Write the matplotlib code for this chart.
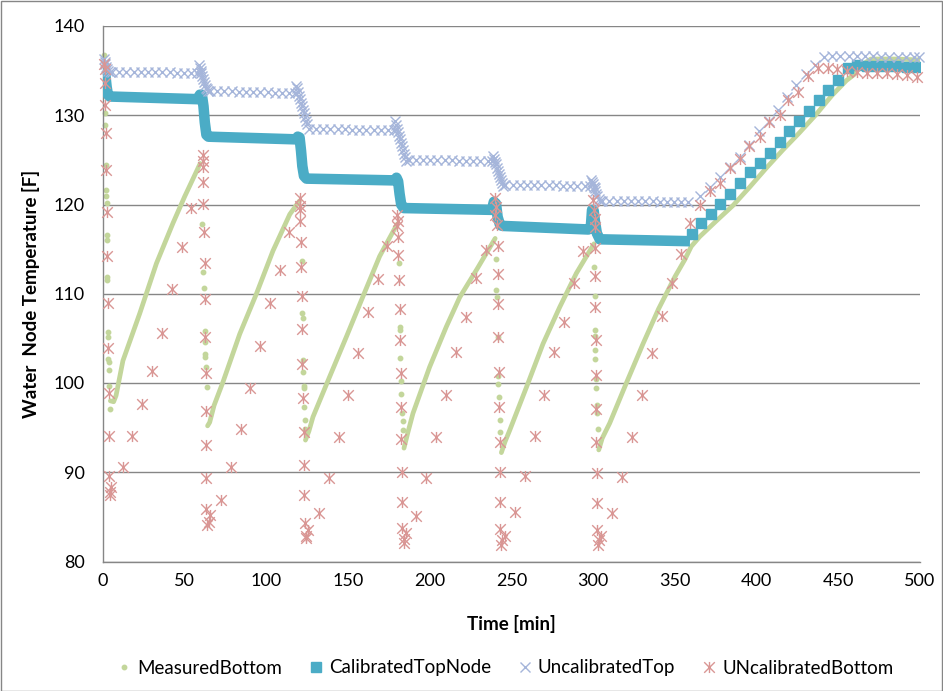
import matplotlib
matplotlib.use("Agg")
import matplotlib.pyplot as plt
from matplotlib.path import Path
from matplotlib.lines import Line2D
from matplotlib.patches import Rectangle

plt.rcParams['font.family'] = ['Lato', 'DejaVu Sans']

# ---------------- MeasuredBottom ----------------
# sparse readings taken while the tank is being drawn down
meas_draw_time = [0.4, 1.0, 1.2, 1.6, 1.8, 2.0, 2.2, 2.3, 2.5, 2.6, 2.7, 3.0, 3.1, 3.3, 3.4, 3.5, 3.7, 4.5,
                  60.8, 61.2, 61.8, 62.2, 62.3, 62.5, 62.7, 63.0, 63.4,
                  121.5, 122.0, 122.1, 122.4, 122.6, 122.8, 122.9, 123.2, 123.6, 123.8,
                  181.0, 181.5, 181.6, 182.0, 182.4, 182.6, 183.0, 183.5, 183.6,
                  240.3, 240.8, 240.9, 241.8, 241.8, 241.9, 242.4, 242.8, 243.2,
                  300.5, 300.9, 300.9, 301.3, 301.3, 301.3, 301.9, 301.9, 302.5, 302.5, 302.9]
meas_draw_temp = [136.7, 130.2, 128.9, 124.4, 121.6, 120.9, 120.2, 116.6, 116.0, 111.9, 111.5, 105.7, 105.2, 102.7, 102.4, 101.5, 99.7, 97.1,
                  117.8, 112.4, 110.6, 105.8, 104.6, 103.3, 102.9, 101.8, 99.5,
                  113.7, 107.8, 107.3, 102.6, 101.2, 99.7, 99.4, 97.3, 95.8, 94.9,
                  113.5, 106.3, 105.9, 102.8, 100.2, 98.8, 96.6, 95.7, 94.7,
                  113.9, 110.4, 109.6, 105.1, 100.8, 99.9, 98.4, 95.8, 94.5,
                  113.0, 109.8, 105.9, 105.3, 103.7, 102.7, 100.5, 99.4, 97.5, 96.6, 94.9]
# dense recovery traces, one list per recovery period
meas_rise_time = [
    [4.5, 6.5, 8.0, 9.5, 12.2, 22.5, 32.7, 42.8, 50.0, 59.5],
    [64.0, 65.3, 68.0, 73.4, 83.7, 93.9, 104.0, 114.3, 120.2],
    [123.9, 126.0, 128.5, 138.7, 149.0, 159.1, 169.3, 180.0],
    [184.2, 186.5, 189.7, 199.9, 210.1, 218.3, 229.0, 240.0],
    [243.8, 246.0, 248.9, 259.1, 269.3, 279.5, 289.7, 300.5],
    [303.4, 305.5, 310.1, 320.3, 330.5, 340.0, 350.0, 356.0, 360.0, 365.2, 375.0, 385.6,
     396.0, 406.0, 416.0, 426.0, 436.0, 446.0, 455.0, 460.0, 464.0, 470.0, 485.0, 499.5],
]
meas_rise_temp = [
    [98.0, 97.9, 98.6, 100.0, 102.5, 107.8, 113.4, 117.9, 120.9, 124.6],
    [95.2, 95.6, 97.5, 100.1, 105.5, 110.0, 114.8, 118.9, 120.4],
    [93.6, 94.6, 96.2, 100.7, 105.2, 109.7, 114.2, 117.8],
    [92.7, 94.4, 96.6, 101.8, 106.3, 109.6, 112.8, 116.2],
    [92.2, 93.4, 94.7, 99.5, 104.4, 108.5, 112.3, 115.6],
    [92.5, 93.8, 95.5, 100.0, 104.4, 108.3, 111.9, 113.8, 115.3, 116.4, 118.1, 119.9,
     122.0, 124.1, 126.1, 128.0, 130.0, 132.2, 133.9, 134.6, 135.6, 136.3, 136.3, 136.2],
]

# ---------------- CalibratedTopNode ----------------
# densely logged part (draws and standby) forms a continuous band
calib_band_time = [0.0, 0.8, 1.5, 2.2, 3.0, 4.0, 58.0, 59.3, 60.5, 61.5, 62.3, 63.3, 64.5,
                   118.0, 119.2, 120.3, 121.2, 122.0, 123.0, 124.5,
                   178.5, 179.6, 180.6, 181.5, 182.5, 184.0,
                   238.0, 239.2, 240.5, 241.5, 243.0, 244.5,
                   297.0, 298.6, 299.3, 300.3, 301.0, 302.2, 304.0, 356.0]
calib_band_temp = [135.6, 135.4, 134.4, 133.2, 132.3, 132.1, 131.8, 132.3, 132.3, 131.0, 129.2, 127.8, 127.6,
                   127.3, 127.6, 127.5, 126.0, 124.3, 123.2, 122.9,
                   122.7, 123.0, 122.6, 121.2, 120.0, 119.6,
                   119.4, 120.3, 120.1, 118.6, 117.7, 117.6,
                   117.2, 117.6, 119.4, 119.3, 118.2, 116.8, 116.1, 115.9]
# six-minute samples during the final heat-up and hold
calib_step_time = [360.2, 365.8, 371.9, 377.8, 384.0, 390.1, 395.8, 401.9, 408.0, 414.2, 419.9, 425.8,
                   431.9, 438.0, 443.7, 449.8, 455.9, 461.4, 467.5, 473.6, 479.7, 485.8, 491.9, 498.0]
calib_step_temp = [116.7, 117.9, 118.9, 120.1, 121.2, 122.4, 123.6, 124.7, 125.8, 127.0, 128.2, 129.4,
                   130.5, 131.7, 132.8, 134.0, 135.3, 135.6, 135.5, 135.5, 135.5, 135.5, 135.4, 135.4]

# ---------------- UncalibratedTop ----------------
uncal_top_time = [0.6, 1.0, 1.5, 2.0, 2.6, 3.3, 4.0,
                  5.5, 9.9, 14.3, 18.7, 23.1, 27.5, 31.9, 36.3, 40.7, 45.1, 49.5, 53.9, 57.6,
                  58.6, 59.2, 59.7, 60.2, 60.7, 61.2, 61.7, 62.2, 62.8, 63.4, 64.0,
                  65.5, 69.9, 74.3, 78.7, 83.1, 87.5, 91.9, 96.3, 100.7, 105.1, 109.5, 113.9, 117.5,
                  118.4, 118.9, 119.4, 120.0, 120.5, 121.0, 121.6, 122.2, 122.8, 123.4, 124.0, 124.8,
                  126.0, 130.4, 134.8, 139.2, 143.6, 148.0, 152.4, 156.8, 161.2, 165.6, 170.0, 174.4, 177.8,
                  178.5, 179.1, 179.7, 180.3, 180.9, 181.5, 182.1, 182.7, 183.3, 184.0, 184.8, 185.6,
                  187.0, 191.4, 195.8, 200.2, 204.6, 209.0, 213.4, 217.8, 222.2, 226.6, 231.0, 235.4, 238.0,
                  238.7, 239.2, 239.8, 240.4, 241.0, 241.6, 242.2, 242.8, 243.4, 244.1, 244.8,
                  246.3, 250.7, 255.1, 259.5, 263.9, 268.3, 272.7, 277.1, 281.5, 285.9, 290.3, 294.7, 297.8,
                  298.9, 299.4, 299.9, 300.4, 300.9, 301.4, 302.0, 302.6, 303.3, 304.0,
                  305.5, 309.9, 314.3, 318.7, 323.1, 327.5, 331.9, 336.3, 340.7, 345.1, 349.5, 353.9, 358.3,
                  365.2, 371.3, 377.4, 383.5, 389.6, 395.5, 401.5, 407.3, 413.1, 418.8, 424.4, 430.0, 435.5, 441.3,
                  446.3, 451.3, 456.3, 461.3, 466.3, 471.3, 476.3, 481.3, 486.3, 491.3, 496.3, 499.3]
uncal_top_temp = [136.3, 136.0, 135.7, 135.4, 135.2, 135.0, 134.9,
                  134.9, 134.9, 134.9, 134.9, 134.8, 134.8, 134.8, 134.8, 134.8, 134.7, 134.7, 134.7, 134.7,
                  135.6, 135.3, 135.0, 134.7, 134.4, 134.1, 133.7, 133.4, 133.1, 132.9, 132.7,
                  132.7, 132.7, 132.7, 132.7, 132.6, 132.6, 132.6, 132.6, 132.6, 132.5, 132.5, 132.5, 132.5,
                  133.3, 133.0, 132.6, 132.2, 131.8, 131.4, 131.0, 130.6, 130.2, 129.8, 129.4, 129.0,
                  128.5, 128.5, 128.5, 128.5, 128.5, 128.5, 128.4, 128.4, 128.4, 128.4, 128.4, 128.4, 128.4,
                  129.3, 128.9, 128.5, 128.1, 127.7, 127.3, 126.9, 126.5, 126.1, 125.7, 125.3, 124.9,
                  125.0, 125.0, 125.0, 125.0, 125.0, 125.0, 125.0, 124.9, 124.9, 124.9, 124.9, 124.9, 124.9,
                  125.4, 125.1, 124.8, 124.5, 124.1, 123.8, 123.4, 123.1, 122.8, 122.4, 122.1,
                  122.2, 122.2, 122.2, 122.2, 122.2, 122.2, 122.2, 122.2, 122.1, 122.1, 122.1, 122.1, 122.1,
                  122.7, 122.5, 122.3, 122.0, 121.8, 121.5, 121.2, 120.9, 120.6, 120.4,
                  120.4, 120.4, 120.4, 120.4, 120.4, 120.4, 120.4, 120.4, 120.3, 120.3, 120.3, 120.3, 120.3,
                  120.9, 122.0, 123.1, 124.2, 125.3, 126.7, 128.2, 129.4, 130.6, 132.0, 133.4, 134.6, 135.6, 136.5,
                  136.6, 136.6, 136.6, 136.6, 136.6, 136.6, 136.5, 136.5, 136.5, 136.5, 136.5, 136.5]

# ---------------- UNcalibratedBottom ----------------
uncal_bot_time = [0.6, 1.0, 1.2, 1.5, 1.8, 2.1, 2.4, 2.6, 3.0, 3.2, 3.5, 3.7, 3.8, 4.0, 4.4, 5.0,
                  12.2, 18.0, 24.1, 30.2, 36.3, 42.5, 48.2, 54.1,
                  61.0, 61.2, 61.1, 61.3, 61.1, 61.8, 62.2, 62.7, 62.7, 62.9, 62.9, 63.3, 63.3, 63.3, 63.6, 64.7, 65.7,
                  72.0, 78.1, 84.3, 90.2, 96.3, 102.0, 108.1, 113.8,
                  120.4, 120.8, 120.8, 120.8, 121.4, 121.4, 121.8, 122.0, 122.0, 122.4, 122.8, 122.8, 123.0, 123.4, 124.2, 124.4, 125.5,
                  132.2, 138.1, 144.2, 150.0, 156.1, 162.2, 168.3, 174.0,
                  179.9, 180.5, 179.9, 180.7, 180.7, 181.2, 181.6, 181.6, 182.2, 182.2, 182.6, 182.9, 182.9, 183.2, 184.0, 184.2, 185.7,
                  191.8, 197.9, 204.0, 210.2, 215.8, 222.0, 228.1, 234.2,
                  239.7, 240.3, 239.7, 240.9, 241.7, 241.7, 241.7, 241.7, 242.3, 242.3, 242.8, 243.2, 243.2, 243.2, 243.8, 244.4, 245.8,
                  252.0, 258.1, 264.2, 269.9, 276.0, 282.0, 288.1, 293.8,
                  299.9, 300.3, 300.9, 300.9, 300.9, 300.9, 300.9, 301.5, 301.5, 301.8, 301.8, 302.2, 302.2, 302.2, 302.8, 303.4, 304.8,
                  311.8, 317.9, 324.0, 329.9, 336.0, 342.0, 348.0, 354.0, 359.5, 365.6, 371.7, 377.8, 383.5, 389.6,
                  395.3, 401.9, 407.6, 414.1, 419.4, 425.3, 431.5, 437.6, 443.7, 449.4, 455.3, 461.4, 467.6, 473.7,
                  479.8, 486.0, 492.0, 498.4]
uncal_bot_temp = [135.7, 135.2, 133.6, 131.2, 128.0, 123.9, 119.2, 114.2, 109.0, 103.9, 98.9, 94.1, 89.6, 87.4, 87.8, 88.4,
                  90.6, 94.1, 97.6, 101.3, 105.6, 110.5, 115.2, 119.6,
                  125.5, 124.9, 124.2, 122.5, 120.1, 116.9, 113.4, 109.4, 105.2, 101.1, 96.9, 93.0, 89.3, 85.9, 84.1, 84.4, 85.2,
                  86.9, 90.6, 94.8, 99.4, 104.2, 109.0, 112.7, 116.9,
                  120.7, 119.8, 119.4, 118.1, 115.8, 113.0, 109.7, 106.0, 102.1, 98.3, 94.5, 90.8, 87.4, 84.3, 82.9, 82.6, 83.5,
                  85.4, 89.4, 93.9, 98.7, 103.4, 107.9, 111.6, 115.4,
                  118.8, 118.2, 117.6, 116.4, 114.3, 111.5, 108.3, 104.8, 101.1, 97.3, 93.7, 90.0, 86.7, 83.7, 82.1, 82.5, 83.2,
                  85.1, 89.3, 93.9, 98.6, 103.5, 107.4, 111.8, 114.9,
                  120.7, 119.7, 118.8, 117.7, 115.3, 112.2, 108.8, 105.1, 101.2, 97.3, 93.4, 90.0, 86.7, 83.6, 81.8, 82.4, 82.9,
                  85.6, 89.6, 94.1, 98.7, 103.5, 106.8, 111.2, 114.8,
                  120.5, 119.4, 118.4, 117.5, 115.1, 112.0, 108.5, 104.8, 100.9, 97.1, 93.4, 89.9, 86.5, 83.5, 81.8, 82.4, 82.9,
                  85.4, 89.5, 94.0, 98.6, 103.4, 107.5, 111.2, 114.5, 117.9, 119.9, 121.5, 122.4, 124.1, 125.1,
                  126.5, 127.6, 129.2, 130.0, 131.7, 132.6, 134.4, 135.3, 135.3, 135.2, 135.0, 134.9, 134.7, 134.7,
                  134.7, 134.6, 134.5, 134.3]

x_ticks = [0, 50, 100, 150, 200, 250, 300, 350, 400, 450, 500]
y_ticks = [80, 90, 100, 110, 120, 130, 140]
series_names = ["MeasuredBottom", "CalibratedTopNode", "UncalibratedTop", "UNcalibratedBottom"]

GREEN = "#C3D69B"
CYAN = "#4BACC6"
BLUE = "#A5B5DA"
PINK = "#D99694"
GRID = "#868686"

# asterisk marker: an "x" with a vertical bar through it
star = Path([(-1, -1), (1, 1), (-1, 1), (1, -1), (0, -1.05), (0, 1.05)],
            [Path.MOVETO, Path.LINETO, Path.MOVETO, Path.LINETO, Path.MOVETO, Path.LINETO])

fig = plt.figure(figsize=(9.43, 6.91), dpi=100)
ax = fig.add_axes([103 / 943, 1 - 561.5 / 691, 817 / 943, (561.5 - 26) / 691])

# MeasuredBottom
for tt, vv in zip(meas_rise_time, meas_rise_temp):
    ax.plot(tt, vv, color=GREEN, lw=3.4, solid_capstyle="round", solid_joinstyle="round", zorder=2)
ax.plot(meas_draw_time, meas_draw_temp, ls="none", marker="o", ms=3.2, mfc=GREEN, mec=GREEN,
        zorder=2, clip_on=False)

# CalibratedTopNode
ax.plot(calib_band_time, calib_band_temp, color=CYAN, lw=7.6, solid_capstyle="projecting",
        solid_joinstyle="round", zorder=3)
ax.plot(calib_step_time, calib_step_temp, ls="none", marker="s", ms=7.4, mfc=CYAN, mec=CYAN,
        zorder=3)

# UncalibratedTop
ax.plot(uncal_top_time, uncal_top_temp, ls="none", marker="x", ms=7.2, mew=1.0, color=BLUE,
        zorder=4, clip_on=False)

# UNcalibratedBottom
ax.plot(uncal_bot_time, uncal_bot_temp, ls="none", marker=star, ms=8.0, mew=1.0, color=PINK,
        mfc="none", zorder=5, clip_on=False)

ax.set_xlim(0, 500)
ax.set_ylim(80, 140)
ax.set_xticks(x_ticks)
ax.set_yticks(y_ticks)
ax.yaxis.grid(True, color=GRID, lw=1.0)
ax.set_axisbelow(True)
for side in ("top", "right"):
    ax.spines[side].set_visible(False)
for side in ("left", "bottom"):
    ax.spines[side].set_color(GRID)
    ax.spines[side].set_linewidth(1.0)
ax.tick_params(axis="both", length=0, labelsize=13, colors="black")
ax.tick_params(axis="y", pad=13)
ax.tick_params(axis="x", pad=8)

ax.set_xlabel("Time [min]", fontsize=13.5, fontweight="bold", labelpad=19)
ax.set_ylabel("Water  Node Temperature [F]", fontsize=13.5, fontweight="bold", labelpad=10)

handles = [
    Line2D([], [], ls="none", marker="o", ms=3.2, mfc=GREEN, mec=GREEN),
    Line2D([], [], ls="none", marker="s", ms=7.0, mfc=CYAN, mec=CYAN),
    Line2D([], [], ls="none", marker="x", ms=7.0, mew=1.0, color=BLUE),
    Line2D([], [], ls="none", marker=star, ms=8.0, mew=1.0, color=PINK),
]
fig.legend(handles, series_names, loc="center", bbox_to_anchor=(505 / 943, 1 - 668 / 691),
           ncol=4, frameon=False, fontsize=13.5, handlelength=0.8, handletextpad=0.3,
           columnspacing=1.4)

fig.patches.append(Rectangle((0.5 / 943, 0.5 / 691), 941.5 / 943, 689.5 / 691, transform=fig.transFigure,
                             fill=False, edgecolor=GRID, lw=1.0))

fig.savefig("out.png", dpi=100)
